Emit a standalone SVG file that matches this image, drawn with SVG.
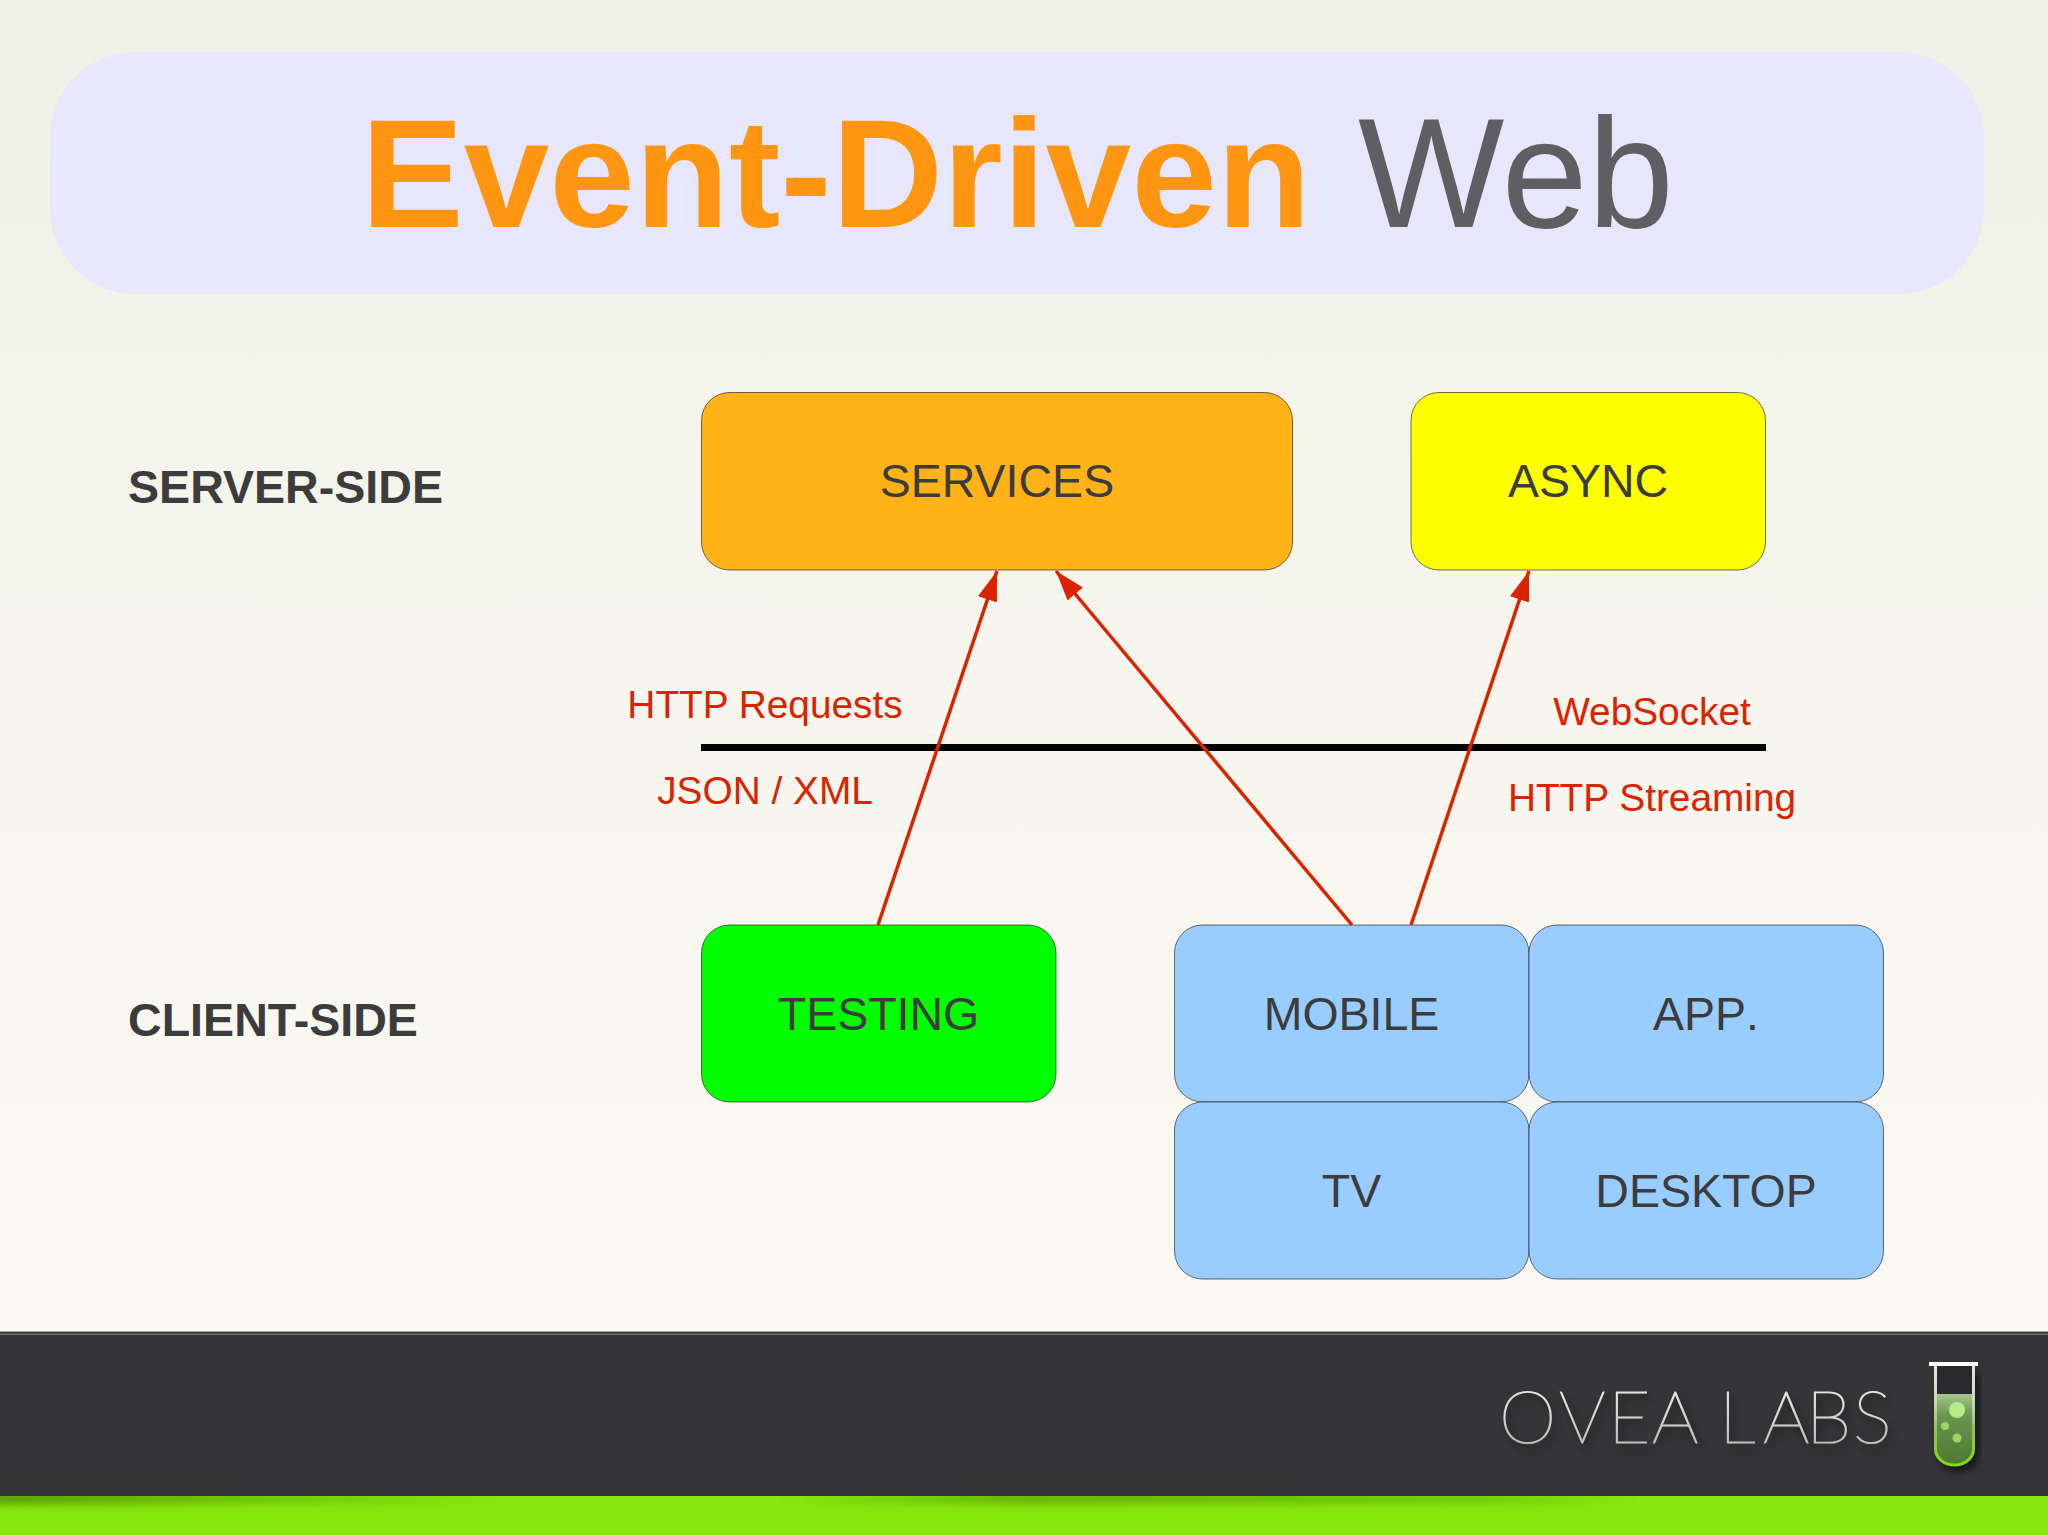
<svg xmlns="http://www.w3.org/2000/svg" width="2048" height="1535" viewBox="0 0 2048 1535">
<defs>
<linearGradient id="bg" x1="0" y1="0" x2="0" y2="1"><stop offset="0" stop-color="#f0f1e5"/><stop offset="0.45" stop-color="#f6f6ee"/><stop offset="1" stop-color="#fbf9f3"/></linearGradient>
<linearGradient id="logoText" x1="0" y1="0" x2="0" y2="1"><stop offset="0" stop-color="#f2f2f2"/><stop offset="0.55" stop-color="#d0d0d0"/><stop offset="1" stop-color="#b0b0b0"/></linearGradient>
<linearGradient id="liquid" x1="0" y1="0" x2="0" y2="1"><stop offset="0" stop-color="#a8c68e"/><stop offset="0.3" stop-color="#6d9550"/><stop offset="1" stop-color="#4d7a30"/></linearGradient>
<linearGradient id="wall" x1="0" y1="0" x2="0" y2="1"><stop offset="0" stop-color="#e6e6e6"/><stop offset="0.35" stop-color="#c8d8b8"/><stop offset="0.65" stop-color="#8fc05a"/><stop offset="1" stop-color="#82d81e"/></linearGradient>
<linearGradient id="shadeH" x1="0" y1="0" x2="1" y2="0"><stop offset="0" stop-color="#4c8a08" stop-opacity="0.85"/><stop offset="0.16" stop-color="#4c8a08" stop-opacity="0.3"/><stop offset="0.25" stop-color="#4c8a08" stop-opacity="0"/><stop offset="0.38" stop-color="#4c8a08" stop-opacity="0"/><stop offset="0.5" stop-color="#4c8a08" stop-opacity="0.6"/><stop offset="0.72" stop-color="#4c8a08" stop-opacity="0.35"/><stop offset="0.8" stop-color="#4c8a08" stop-opacity="0"/></linearGradient>
<filter id="shadow" x="-10%" y="-20%" width="125%" height="150%"><feDropShadow dx="4" dy="6" stdDeviation="4" flood-color="#000" flood-opacity="0.6"/></filter>
<filter id="soft" x="-5%" y="-100%" width="110%" height="300%"><feGaussianBlur stdDeviation="0 4"/></filter>
<marker id="arrow" markerUnits="userSpaceOnUse" markerWidth="30" markerHeight="20" refX="30" refY="10" orient="auto"><path d="M0 0L30 10L0 20Z" fill="#dc2300"/></marker>
</defs>
<style>
.node{stroke:#000;stroke-opacity:.55;stroke-width:1}
.nt{font-family:"Liberation Sans",Arial,sans-serif;font-size:46.500px;fill:#3c3c3c;text-anchor:middle}
.side{font-family:"Liberation Sans",Arial,sans-serif;font-size:46.600px;font-weight:bold;fill:#3c3c3c}
.lab{font-family:"Liberation Sans",Arial,sans-serif;font-size:38.800px;fill:#dc2300;text-anchor:middle}
.conn{stroke:#dc2300;stroke-width:3.500;fill:none;marker-end:url(#arrow)}
</style>
<rect width="2048" height="1535" fill="url(#bg)"/>
<g id="title">
<rect x="50" y="52" width="1934" height="242" rx="85" fill="#e8e6fa"/>
<text y="227" font-family="'Liberation Sans',Arial,sans-serif" font-size="155" fill="#5f5f63"><tspan x="361" font-size="154" font-weight="bold" fill="#ff9611">Event-Driven</tspan> <tspan x="1358">Web</tspan></text>
</g>
<g id="divider"><line x1="701" y1="747.500" x2="1766" y2="747.500" stroke="#000" stroke-width="7"/></g>
<g id="server-side"><text class="side" x="128" y="503">SERVER-SIDE</text></g>
<g id="client-side"><text class="side" x="128" y="1036">CLIENT-SIDE</text></g>
<g id="services"><rect class="node" x="701.500" y="392.500" width="591" height="177.500" rx="28" fill="#ffb319"/><text class="nt" x="997" y="497">SERVICES</text></g>
<g id="async"><rect class="node" x="1411" y="392.500" width="354.500" height="177.500" rx="28" fill="#ffff00"/><text class="nt" x="1588" y="497">ASYNC</text></g>
<g id="testing"><rect class="node" x="701.500" y="925" width="354.500" height="177" rx="28" fill="#00ff00"/><text class="nt" x="878.500" y="1030">TESTING</text></g>
<g id="mobile"><rect class="node" x="1174.500" y="925" width="354.500" height="177" rx="28" fill="#99ccff"/><text class="nt" x="1351.500" y="1030">MOBILE</text></g>
<g id="app"><rect class="node" x="1529" y="925" width="354.500" height="177" rx="28" fill="#99ccff"/><text class="nt" x="1706" y="1030" style="font-kerning:none">APP.</text></g>
<g id="tv"><rect class="node" x="1174.500" y="1102" width="354.500" height="177" rx="28" fill="#99ccff"/><text class="nt" x="1351.500" y="1207">TV</text></g>
<g id="desktop"><rect class="node" x="1529" y="1102" width="354.500" height="177" rx="28" fill="#99ccff"/><text class="nt" x="1706" y="1207">DESKTOP</text></g>
<g id="connectors">
<line class="conn" x1="878" y1="925" x2="997" y2="571"/>
<line class="conn" x1="1352" y1="925" x2="1056" y2="571"/>
<line class="conn" x1="1411" y1="925" x2="1529" y2="571"/>
</g>
<g id="labels">
<text class="lab" x="765" y="718">HTTP Requests</text>
<text class="lab" x="765" y="804">JSON / XML</text>
<text class="lab" x="1652" y="725">WebSocket</text>
<text class="lab" x="1652" y="811">HTTP Streaming</text>
</g>
<g id="footer">
<rect y="1331" width="2048" height="1.500" fill="#a9a89f"/>
<rect y="1332" width="2048" height="164" fill="#353437"/>
<rect y="1333.500" width="2048" height="1.500" fill="#6b6a66"/>
<rect y="1496" width="2048" height="39" fill="#86e80c"/>
<rect y="1492" width="2048" height="12" fill="url(#shadeH)" filter="url(#soft)"/>
<rect y="1486" width="2048" height="10" fill="#353437"/>
<text x="1499 1559 1608 1652 1700 1719 1763 1806 1853" y="1443" font-family="Lato,Roboto,sans-serif" font-weight="100" font-size="73" fill="url(#logoText)" stroke="url(#logoText)" stroke-width="1.200" filter="url(#shadow)">OVEA LABS</text>
<g id="logo-tube">
<path d="M1934 1366V1449a20.500 17 0 0 0 41 0V1366Z" fill="#2c2b2e" filter="url(#shadow)"/>
<path d="M1936 1394H1973V1449a18.500 15 0 0 1-37 0Z" fill="url(#liquid)"/>
<circle cx="1957" cy="1410" r="8" fill="#b8ec88"/>
<circle cx="1945" cy="1426" r="4" fill="#96d863"/>
<circle cx="1957" cy="1438" r="4.500" fill="#96d863"/>
<path d="M1935.500 1366V1449a19 16 0 0 0 38 0V1366" fill="none" stroke="url(#wall)" stroke-width="3"/>
<rect x="1929" y="1362" width="49" height="4" fill="#fff"/>
</g>
</g>
</svg>
